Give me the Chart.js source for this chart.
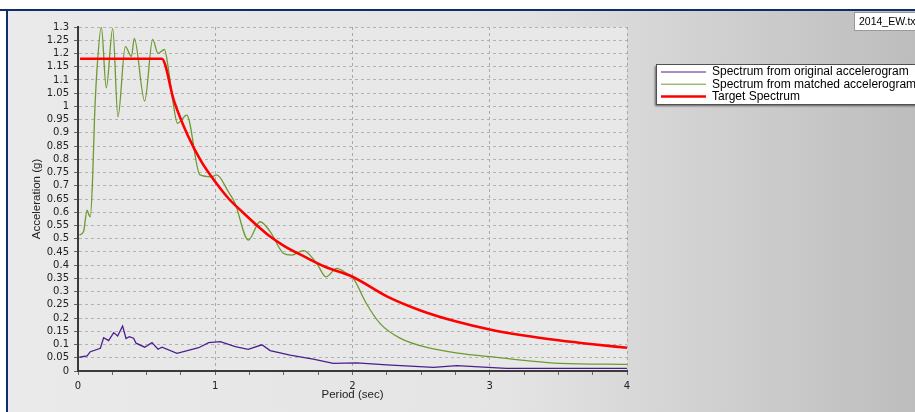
<!DOCTYPE html>
<html>
<head>
<meta charset="utf-8">
<script src="https://cdn.jsdelivr.net/npm/chart.js@4.4.1/dist/chart.umd.min.js"></script>
<style>
    body { margin: 0; overflow: hidden; background: #fff; }
    #wrap { width: 915px; height: 412px; position: relative; }
</style>
</head>
<body>
<div id="wrap"><canvas id="spectrumChart"></canvas></div>
<script>
// Periods (sec) and spectral accelerations (g)
const originalPeriods = [0.01, 0.066, 0.09, 0.163, 0.187, 0.223, 0.26, 0.289, 0.325, 0.35, 0.374, 0.405, 0.423, 0.486, 0.539, 0.583, 0.612, 0.721, 0.879, 0.952, 1.037, 1.146, 1.24, 1.34, 1.40, 1.545, 1.714, 1.86, 2.03, 2.25, 2.59, 2.76, 3.12, 4.0];
const originalValues = [0.052, 0.057, 0.073, 0.086, 0.126, 0.115, 0.145, 0.132, 0.17, 0.123, 0.13, 0.124, 0.105, 0.09, 0.107, 0.082, 0.09, 0.067, 0.088, 0.107, 0.111, 0.092, 0.082, 0.099, 0.077, 0.06, 0.045, 0.029, 0.031, 0.023, 0.014, 0.02, 0.01, 0.01];

const matchedPeriods = [0.01, 0.04, 0.066, 0.08, 0.09, 0.107, 0.12, 0.138, 0.17, 0.206, 0.253, 0.291, 0.345, 0.389, 0.41, 0.486, 0.544, 0.583, 0.63, 0.66, 0.69, 0.725, 0.792, 0.889, 0.974, 1.01, 1.095, 1.144, 1.241, 1.326, 1.40, 1.496, 1.557, 1.642, 1.739, 1.807, 1.885, 1.958, 2.006, 2.10, 2.20, 2.346, 2.565, 2.783, 3.0, 3.27, 3.51, 4.0];
const matchedValues = [0.514, 0.526, 0.608, 0.59, 0.583, 0.734, 0.95, 1.137, 1.30, 1.07, 1.295, 0.96, 1.226, 1.188, 1.257, 1.02, 1.253, 1.20, 1.215, 1.137, 1.024, 0.936, 0.967, 0.741, 0.734, 0.741, 0.678, 0.634, 0.495, 0.564, 0.527, 0.445, 0.438, 0.455, 0.407, 0.356, 0.388, 0.369, 0.35, 0.256, 0.18, 0.124, 0.086, 0.067, 0.054, 0.039, 0.029, 0.025];

const targetPeriods = [0.015, 0.61, 0.7, 0.8, 0.9, 1.0, 1.1, 1.2, 1.3, 1.4, 1.5, 1.65, 1.8, 2.0, 2.25, 2.5, 2.75, 3.0, 3.25, 3.5, 3.75, 4.0];
const targetValues = [1.18, 1.18, 1.02, 0.89, 0.79, 0.715, 0.65, 0.6, 0.552, 0.508, 0.473, 0.432, 0.394, 0.356, 0.282, 0.228, 0.188, 0.157, 0.134, 0.116, 0.101, 0.088];

const seriesLabels = ['Spectrum from original accelerogram', 'Spectrum from matched accelerogram', 'Target Spectrum'];
const seriesColors = ['#4a1f8c', '#6e9a34', '#ff0000'];
const fileName = '2014_EW.txt';

const toPoints = (xs, ys) => xs.map((x, i) => ({ x: x, y: ys[i] }));

// frame, gradient backdrop and plot fill
const backdrop = {
    id: 'backdrop',
    beforeDraw: (chart) => {
        const { ctx, width, height, chartArea } = chart;
        ctx.save();
        ctx.fillStyle = '#fff';
        ctx.fillRect(0, 0, width, height);
        const grad = ctx.createLinearGradient(8, 0, width, 0);
        grad.addColorStop(0, '#eaeaea');
        grad.addColorStop(0.55, '#e4e4e4');
        grad.addColorStop(1, '#bdbdbd');
        ctx.fillStyle = grad;
        ctx.fillRect(8, 11, width - 8, height - 11);
        ctx.fillStyle = '#0f2c6c';
        ctx.fillRect(0, 9, width, 2);
        ctx.fillRect(6, 9, 2, height - 9);
        ctx.fillStyle = '#e8e8e8';
        ctx.fillRect(chartArea.left, chartArea.top, chartArea.right - chartArea.left, chartArea.bottom - chartArea.top);
        ctx.restore();
    }
};

// legend box and file name box at the right
const sideBoxes = {
    id: 'sideBoxes',
    afterDraw: (chart) => {
        const { ctx } = chart;
        ctx.save();
        ctx.fillStyle = '#fff';
        ctx.strokeStyle = '#9a9a9a';
        ctx.lineWidth = 1;
        ctx.fillRect(854.5, 12.5, 70, 18);
        ctx.strokeRect(854.5, 12.5, 70, 18);
        ctx.fillStyle = '#000';
        ctx.font = '10.5px "Liberation Sans", Arial, sans-serif';
        ctx.textBaseline = 'middle';
        ctx.fillText(fileName, 859, 22);

        ctx.shadowColor = 'rgba(0,0,0,0.55)';
        ctx.shadowOffsetX = -1;
        ctx.shadowOffsetY = 2;
        ctx.shadowBlur = 2;
        ctx.fillStyle = '#fff';
        ctx.fillRect(656, 64, 270, 40);
        ctx.shadowColor = 'transparent';
        ctx.strokeStyle = '#505050';
        ctx.strokeRect(656.5, 64.5, 270, 40);

        ctx.font = '12px "Liberation Sans", Arial, sans-serif';
        chart.data.datasets.forEach((ds, i) => {
            const y = 72 + i * 12.2;
            ctx.strokeStyle = ds.borderColor;
            ctx.lineWidth = i === 2 ? 2.5 : 1;
            ctx.beginPath();
            ctx.moveTo(661, y);
            ctx.lineTo(706, y);
            ctx.stroke();
            ctx.fillStyle = '#000';
            ctx.fillText(ds.label, 712, y);
        });
        ctx.restore();
    }
};

const tickFont = { family: '"DejaVu Sans", Verdana, sans-serif', size: 10 };
const titleFont = { family: '"Liberation Sans", Arial, sans-serif', size: 11.5 };

new Chart(document.getElementById('spectrumChart'), {
    type: 'line',
    data: {
        datasets: [
            {
                label: seriesLabels[0],
                data: toPoints(originalPeriods, originalValues),
                borderColor: seriesColors[0],
                borderWidth: 1.3,
                tension: 0,
                order: 2
            },
            {
                label: seriesLabels[1],
                data: toPoints(matchedPeriods, matchedValues),
                borderColor: seriesColors[1],
                borderWidth: 1.3,
                cubicInterpolationMode: 'monotone',
                order: 1
            },
            {
                label: seriesLabels[2],
                data: toPoints(targetPeriods, targetValues),
                borderColor: seriesColors[2],
                borderWidth: 2.6,
                cubicInterpolationMode: 'monotone',
                order: 0
            }
        ]
    },
    options: {
        responsive: true,
        maintainAspectRatio: false,
        animation: false,
        events: [],
        elements: { point: { radius: 0 } },
        layout: { padding: { left: 26, top: 27, right: 288, bottom: 6 } },
        plugins: {
            legend: { display: false },
            tooltip: { enabled: false }
        },
        scales: {
            x: {
                type: 'linear',
                min: 0,
                max: 4,
                afterFit: (scale) => { scale.height = 35; },
                ticks: {
                    stepSize: 0.25,
                    autoSkip: false,
                    maxRotation: 0,
                    padding: 5,
                    color: '#222',
                    font: tickFont,
                    callback: (v) => (v % 1 === 0 ? String(v) : '')
                },
                grid: {
                    color: (c) => (c.tick && c.tick.value % 1 === 0 ? '#a9a9a9' : 'transparent'),
                    tickColor: '#666',
                    tickLength: 4
                },
                border: { color: '#3a3a3a', width: 2, dash: [3, 3] },
                title: {
                    display: true,
                    text: 'Period (sec)',
                    color: '#222',
                    font: titleFont,
                    padding: { top: 4, bottom: 4 }
                }
            },
            y: {
                min: 0,
                max: 1.3,
                afterFit: (scale) => { scale.width = 52; },
                ticks: {
                    stepSize: 0.05,
                    autoSkip: false,
                    padding: 5,
                    color: '#222',
                    font: tickFont,
                    callback: (v) => String(+v.toFixed(2))
                },
                grid: {
                    color: '#b2b2b2',
                    tickColor: '#666',
                    tickLength: 4
                },
                border: { color: '#3a3a3a', width: 2, dash: [3, 3] },
                title: {
                    display: true,
                    text: 'Acceleration (g)',
                    color: '#222',
                    font: titleFont,
                    padding: { top: 4, bottom: 4 }
                }
            }
        }
    },
    plugins: [backdrop, sideBoxes]
});
</script>
</body>
</html>
